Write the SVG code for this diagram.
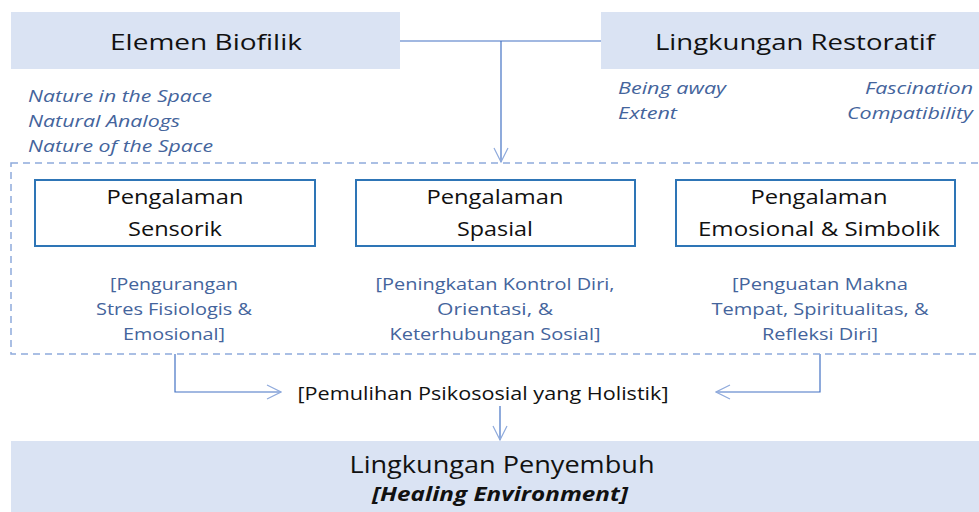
<svg xmlns="http://www.w3.org/2000/svg" width="979" height="512" viewBox="0 0 979 512">
<style>
.hdr{fill:#dae3f3}
.t{font-family:"Open Sans","Noto Sans","Liberation Sans",sans-serif;fill:#111}
.h{font-size:22px}
.bx{fill:#fff;stroke:#2e75b6;stroke-width:2}
.b{font-size:20px}
.it{font-family:"Open Sans","Noto Sans","Liberation Sans",sans-serif;font-style:italic;font-size:17px;fill:#44649c}
.bl{font-family:"Open Sans","Noto Sans","Liberation Sans",sans-serif;font-size:17px;fill:#44649c}
.c{stroke:#4472c4;stroke-width:1.2;fill:none}
.c2{stroke:#8faadc;stroke-width:1.5;fill:none}
</style>
<defs>
<marker id="ah" viewBox="0 0 12 12" refX="11" refY="6" markerWidth="12" markerHeight="12" markerUnits="userSpaceOnUse" orient="auto">
<path d="M1,1 L11,6 L1,11" fill="none" stroke="#4472c4" stroke-width="1"/>
</marker>
<marker id="ah2" viewBox="0 0 16 16" refX="15" refY="8" markerWidth="16" markerHeight="16" markerUnits="userSpaceOnUse" orient="auto">
<path d="M1,1 L15,8 L1,15" fill="none" stroke="#8faadc" stroke-width="1.2"/>
</marker>
</defs>

<g id="connectors">
<line class="c" x1="400" y1="41" x2="601" y2="41"/>
<line class="c" x1="501" y1="41" x2="501" y2="162" marker-end="url(#ah2)"/>
<polyline class="c" points="175,354 175,392 281,392" marker-end="url(#ah2)"/>
<polyline class="c" points="820,354 820,392 716,392" marker-end="url(#ah2)"/>
<line class="c" x1="500" y1="406" x2="500" y2="440" marker-end="url(#ah2)"/>
</g>

<g id="elemen-biofilik">
<rect class="hdr" x="11" y="12" width="389" height="57"/>
<text class="t h" x="206" y="50" text-anchor="middle" textLength="192" lengthAdjust="spacingAndGlyphs">Elemen Biofilik</text>
<text class="it" x="28" y="102" textLength="184" lengthAdjust="spacingAndGlyphs">Nature in the Space</text>
<text class="it" x="28" y="127" textLength="152" lengthAdjust="spacingAndGlyphs">Natural Analogs</text>
<text class="it" x="28" y="152" textLength="185" lengthAdjust="spacingAndGlyphs">Nature of the Space</text>
</g>

<g id="lingkungan-restoratif">
<rect class="hdr" x="601" y="12" width="378" height="57"/>
<text class="t h" x="795" y="50" text-anchor="middle" textLength="280" lengthAdjust="spacingAndGlyphs">Lingkungan Restoratif</text>
<text class="it" x="618" y="94" textLength="108" lengthAdjust="spacingAndGlyphs">Being away</text>
<text class="it" x="618" y="119" textLength="59" lengthAdjust="spacingAndGlyphs">Extent</text>
<text class="it" x="973" y="94" text-anchor="end" textLength="108" lengthAdjust="spacingAndGlyphs">Fascination</text>
<text class="it" x="973" y="119" text-anchor="end" textLength="126" lengthAdjust="spacingAndGlyphs">Compatibility</text>
</g>

<g id="pengalaman-group">
<rect class="c2" x="11" y="163" width="975" height="191" stroke-dasharray="7,5"/>
</g>

<g id="sensorik">
<rect class="bx" x="35" y="180" width="280" height="66"/>
<text class="t b" x="175" y="204" text-anchor="middle" textLength="137" lengthAdjust="spacingAndGlyphs">Pengalaman</text>
<text class="t b" x="175" y="236" text-anchor="middle" textLength="94" lengthAdjust="spacingAndGlyphs">Sensorik</text>
<text class="bl" x="174" y="290" text-anchor="middle" textLength="128" lengthAdjust="spacingAndGlyphs">[Pengurangan</text>
<text class="bl" x="174" y="315" text-anchor="middle" textLength="156" lengthAdjust="spacingAndGlyphs">Stres Fisiologis &amp;</text>
<text class="bl" x="174" y="340" text-anchor="middle" textLength="102" lengthAdjust="spacingAndGlyphs">Emosional]</text>
</g>

<g id="spasial">
<rect class="bx" x="356" y="180" width="279" height="66"/>
<text class="t b" x="495" y="204" text-anchor="middle" textLength="137" lengthAdjust="spacingAndGlyphs">Pengalaman</text>
<text class="t b" x="495" y="236" text-anchor="middle" textLength="76" lengthAdjust="spacingAndGlyphs">Spasial</text>
<text class="bl" x="495" y="290" text-anchor="middle" textLength="239" lengthAdjust="spacingAndGlyphs">[Peningkatan Kontrol Diri,</text>
<text class="bl" x="495" y="315" text-anchor="middle" textLength="116" lengthAdjust="spacingAndGlyphs">Orientasi, &amp;</text>
<text class="bl" x="495" y="340" text-anchor="middle" textLength="211" lengthAdjust="spacingAndGlyphs">Keterhubungan Sosial]</text>
</g>

<g id="emosional">
<rect class="bx" x="676" y="180" width="279" height="66"/>
<text class="t b" x="819" y="204" text-anchor="middle" textLength="137" lengthAdjust="spacingAndGlyphs">Pengalaman</text>
<text class="t b" x="819" y="236" text-anchor="middle" textLength="242" lengthAdjust="spacingAndGlyphs">Emosional &amp; Simbolik</text>
<text class="bl" x="820" y="290" text-anchor="middle" textLength="176" lengthAdjust="spacingAndGlyphs">[Penguatan Makna</text>
<text class="bl" x="820" y="315" text-anchor="middle" textLength="217" lengthAdjust="spacingAndGlyphs">Tempat, Spiritualitas, &amp;</text>
<text class="bl" x="820" y="340" text-anchor="middle" textLength="116" lengthAdjust="spacingAndGlyphs">Refleksi Diri]</text>
</g>

<g id="pemulihan">
<text class="t" font-size="18" x="483" y="400" text-anchor="middle" textLength="371" lengthAdjust="spacingAndGlyphs">[Pemulihan Psikososial yang Holistik]</text>
</g>

<g id="lingkungan-penyembuh">
<rect class="hdr" x="11" y="441" width="968" height="71"/>
<text class="t" font-size="23" x="502" y="473" text-anchor="middle" textLength="305" lengthAdjust="spacingAndGlyphs">Lingkungan Penyembuh</text>
<text class="t" font-size="19" font-weight="bold" font-style="italic" x="500" y="501" text-anchor="middle" textLength="256" lengthAdjust="spacingAndGlyphs">[Healing Environment]</text>
</g>
</svg>
